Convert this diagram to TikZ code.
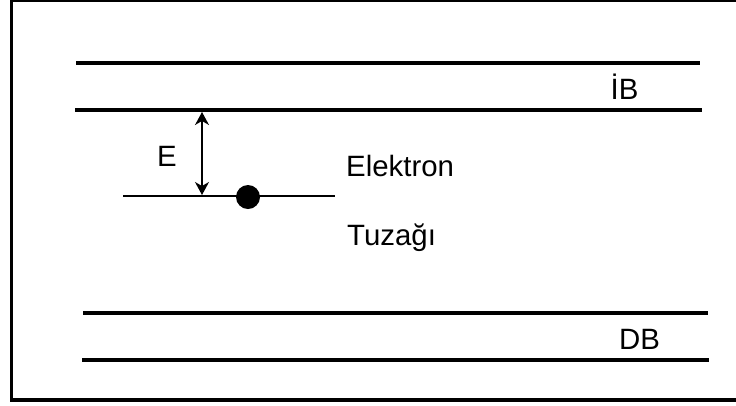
\documentclass[tikz,border=0pt]{standalone}
\usepackage{fontspec}
\setmainfont{Liberation Sans}
\usetikzlibrary{arrows.meta}
\begin{document}
\begin{tikzpicture}[x=1bp,y=-1bp,
  band/.style={line width=3.5bp},
  lbl/.style={font=\fontsize{29.5}{32}\selectfont,inner sep=0pt,anchor=base west}]
  \useasboundingbox (0,0) rectangle (736,405);
  \clip (0,0) rectangle (736,405);
  % Frame
  \draw[line width=3.5bp] (11.5,0.5) rectangle (760,400);
  % Conduction band
  \draw[band] (76,63) -- (700,63);
  \draw[band] (75,110) -- (702,110);
  \node[lbl] (ib) at (610.5,99) {İB};
  % Valence band
  \draw[band] (83,313) -- (708,313);
  \draw[band] (82,360) -- (709,360);
  \node[lbl] (db) at (619,349) {DB};
  % Trap level
  \draw[line width=2.5bp] (123,196) -- (335,196);
  \node[circle,fill,inner sep=0pt,minimum size=24bp] (electron) at (248,197) {};
  \node[lbl] (elektron) at (346,176) {Elektron};
  \node[lbl] (tuzak) at (347,245) {Tuzağı};
  % Energy gap
  \coordinate (gaptop) at (202,112);
  \coordinate (gapbot) at (202,195);
  \draw[{Stealth[length=13bp,width=14bp,inset=4bp]}-{Stealth[length=13bp,width=14bp,inset=4bp]},line width=1.3bp] (gaptop) -- (gapbot);
  \node[lbl] (e) at (157,166) {E};
\end{tikzpicture}
\end{document}
